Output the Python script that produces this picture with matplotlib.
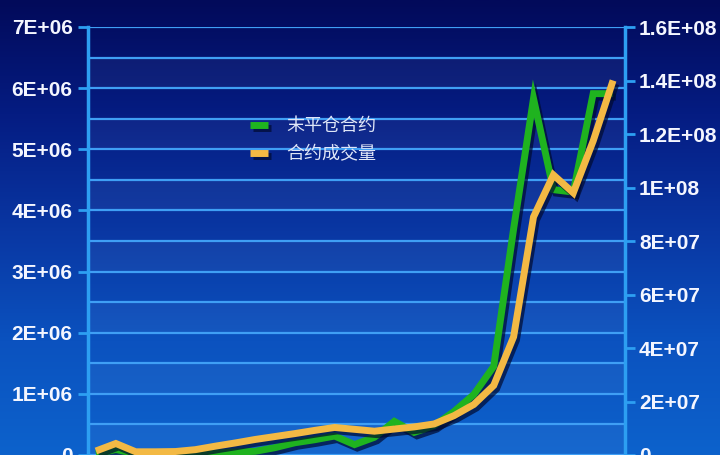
import matplotlib
matplotlib.use('Agg')
import matplotlib.pyplot as plt
import numpy as np
from matplotlib import patheffects as pe
from matplotlib.colors import LinearSegmentedColormap

# ---- data ----
points = list(range(27))
open_interest = [20000, 90000, 20000, 10000, 10000, 20000, 30000, 50000, 60000,
                 120000, 200000, 250000, 310000, 170000, 290000, 550000, 370000,
                 480000, 710000, 990000, 1450000, 3700000, 5830000, 4340000,
                 4300000, 5910000, 5910000]
volume = [1500000, 4300000, 1200000, 1200000, 1300000, 2000000, 3300000, 4500000,
          5800000, 6900000, 8000000, 9200000, 10300000, 9600000, 8900000, 9700000,
          10500000, 11600000, 14700000, 18900000, 26000000, 44200000, 89000000,
          104700000, 98000000, 117400000, 140000000]
series_names = ['末平仓合约', '合约成交量']
left_ticks = [0, 1e6, 2e6, 3e6, 4e6, 5e6, 6e6, 7e6]
left_tick_labels = ['0', '1E+06', '2E+06', '3E+06', '4E+06', '5E+06', '6E+06', '7E+06']
right_ticks = [0, 2e7, 4e7, 6e7, 8e7, 1e8, 1.2e8, 1.4e8, 1.6e8]
right_tick_labels = ['0', '2E+07', '4E+07', '6E+07', '8E+07', '1E+08', '1.2E+08',
                     '1.4E+08', '1.6E+08']

W, H = 720, 455
fig = plt.figure(figsize=(W / 100, H / 100), dpi=100)

# background gradient
bg = fig.add_axes([0, 0, 1, 1])
bg.axis('off')
grad = np.linspace(0, 1, 256).reshape(-1, 1)
cmap = LinearSegmentedColormap.from_list(
    'bg', ['#020a5a', '#051c82', '#0936a2', '#0b52bf', '#0d62cc'])
bg.imshow(grad, aspect='auto', cmap=cmap, extent=[0, 1, 0, 1], origin='upper')
bg.set_xlim(0, 1)
bg.set_ylim(0, 1)

spine_col = '#2d9ff2'
grid_col = '#3f9ff5'
label_font = 'Liberation Sans'
label_size = 15

ax = fig.add_axes([88 / W, 0, (625 - 88) / W, 428 / H])
ax.patch.set_alpha(0)
ax.set_xlim(-0.4, 26.6)
ax.set_ylim(0, 7e6)

# alternating bands + gridlines every 0.5E+06
band_edges = np.arange(0, 7.0e6 + 1, 0.5e6)
for k in range(len(band_edges) - 1):
    if k % 2 == 0:
        ax.axhspan(band_edges[k], band_edges[k + 1], color='white', alpha=0.045,
                   lw=0, zorder=0)
ax.set_yticks(left_ticks)
ax.set_yticklabels(left_tick_labels)
ax.set_yticks(band_edges, minor=True)
ax.grid(which='both', axis='y', color=grid_col, lw=1.6, zorder=1)
ax.set_axisbelow(True)
ax.set_xticks([])

for s in ['top', 'bottom', 'right']:
    ax.spines[s].set_visible(False)
ax.spines['left'].set_color(spine_col)
ax.spines['left'].set_linewidth(2.5)
ax.tick_params(axis='y', which='major', length=7, width=2, color=spine_col,
               direction='out', pad=4, labelsize=label_size, labelcolor='#f4f6ff')
ax.tick_params(axis='y', which='minor', length=0)
for t in ax.get_yticklabels():
    t.set_fontfamily(label_font)
    t.set_fontweight('bold')

shadow = [pe.SimpleLineShadow(offset=(2, -2.5), shadow_color='#000a30', alpha=0.7),
          pe.Normal()]

l1, = ax.plot(points, open_interest, color='#1fb31f', lw=5,
              solid_joinstyle='miter', solid_capstyle='butt',
              path_effects=shadow, zorder=3)

ax2 = ax.twinx()
ax2.set_ylim(0, 1.6e8)
ax2.set_yticks(right_ticks)
ax2.set_yticklabels(right_tick_labels)
for s in ['top', 'bottom', 'left']:
    ax2.spines[s].set_visible(False)
ax2.spines['right'].set_color(spine_col)
ax2.spines['right'].set_linewidth(2.5)
ax2.tick_params(axis='y', which='major', length=7, width=2, color=spine_col,
                direction='out', pad=3, labelsize=label_size, labelcolor='#f4f6ff')
for t in ax2.get_yticklabels():
    t.set_fontfamily(label_font)
    t.set_fontweight('bold')

l2, = ax2.plot(points, volume, color='#f3b944', lw=5,
               solid_joinstyle='miter', solid_capstyle='butt',
               path_effects=shadow, zorder=4)

leg = ax2.legend(handles=[l1, l2], labels=series_names, loc='center left',
                 bbox_to_anchor=(250 / W, 1 - 140 / H), bbox_transform=fig.transFigure,
                 frameon=False, handlelength=1.0, handletextpad=1.0,
                 labelspacing=0.55, borderpad=0, borderaxespad=0,
                 prop={'family': ['Noto Sans CJK SC', 'DejaVu Sans'], 'size': 13},
                 labelcolor='#dfe6f7')

fig.savefig('out.png', dpi=100)
